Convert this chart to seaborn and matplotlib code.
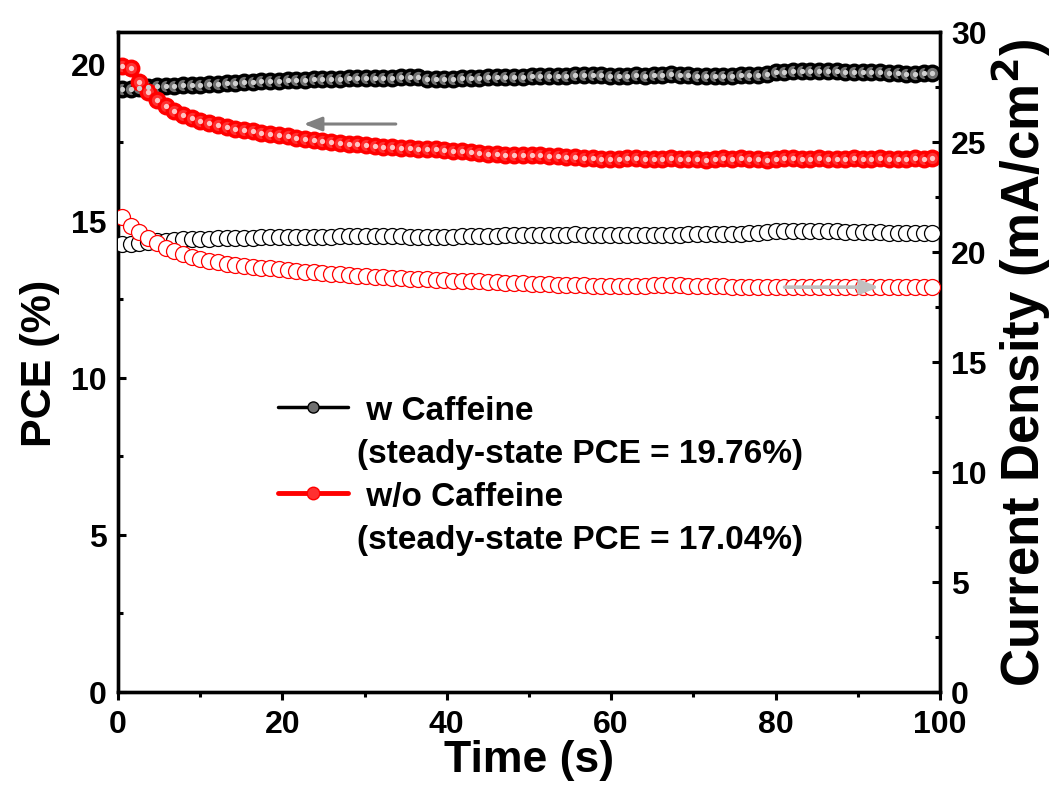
import numpy as np
import matplotlib
matplotlib.use("Agg")
import matplotlib.pyplot as plt
from matplotlib.lines import Line2D
from matplotlib.ticker import MultipleLocator
import seaborn as sns

# Sampling grid of the steady-state tracking measurement (s)
time_s = 0.5 + 1.06 * np.arange(94)

# PCE (%) with caffeine
pce_w = [19.18, 19.20, 19.22, 19.24, 19.27, 19.28, 19.29, 19.30, 19.31, 19.32,
         19.33, 19.35, 19.38, 19.39, 19.40, 19.42, 19.43, 19.44, 19.45, 19.46,
         19.47, 19.48, 19.49, 19.50, 19.50, 19.51, 19.52, 19.53, 19.53, 19.53,
         19.54, 19.53, 19.55, 19.56, 19.55, 19.50, 19.49, 19.50, 19.51, 19.52,
         19.53, 19.54, 19.55, 19.57, 19.57, 19.58, 19.58, 19.59, 19.60, 19.60,
         19.61, 19.61, 19.62, 19.64, 19.63, 19.62, 19.61, 19.61, 19.61, 19.62,
         19.61, 19.62, 19.63, 19.65, 19.63, 19.62, 19.61, 19.61, 19.60, 19.59,
         19.60, 19.62, 19.62, 19.64, 19.67, 19.72, 19.74, 19.75, 19.76, 19.76,
         19.77, 19.77, 19.75, 19.74, 19.73, 19.73, 19.72, 19.72, 19.70, 19.68,
         19.66, 19.67, 19.68, 19.68]

# PCE (%) without caffeine
pce_wo = [19.90, 19.85, 19.40, 19.08, 18.82, 18.63, 18.50, 18.36, 18.26, 18.17,
          18.10, 18.04, 17.97, 17.92, 17.88, 17.84, 17.80, 17.76, 17.72, 17.68,
          17.64, 17.60, 17.56, 17.53, 17.50, 17.47, 17.44, 17.42, 17.40, 17.37,
          17.35, 17.33, 17.31, 17.30, 17.29, 17.28, 17.27, 17.25, 17.22, 17.20,
          17.18, 17.16, 17.13, 17.11, 17.10, 17.09, 17.09, 17.08, 17.07, 17.05,
          17.04, 17.03, 17.02, 17.00, 16.98, 16.96, 16.95, 16.97, 16.99, 16.98,
          16.96, 16.95, 16.97, 16.99, 16.97, 16.96, 16.95, 16.94, 16.97, 16.98,
          16.97, 16.99, 16.97, 16.96, 16.94, 16.97, 16.98, 16.98, 16.96, 16.97,
          16.98, 16.97, 16.95, 16.97, 16.98, 16.96, 16.97, 16.98, 16.97, 16.95,
          16.97, 16.98, 16.96, 16.98]

# Current density (mA/cm2) with caffeine
jsc_w = [20.35, 20.38, 20.42, 20.45, 20.49, 20.52, 20.55, 20.57, 20.59, 20.60,
         20.61, 20.62, 20.63, 20.64, 20.65, 20.65, 20.66, 20.67, 20.67, 20.68,
         20.68, 20.69, 20.69, 20.70, 20.70, 20.71, 20.71, 20.72, 20.72, 20.72,
         20.73, 20.72, 20.71, 20.69, 20.68, 20.68, 20.69, 20.70, 20.70, 20.71,
         20.71, 20.72, 20.73, 20.74, 20.75, 20.76, 20.77, 20.78, 20.78, 20.79,
         20.79, 20.79, 20.80, 20.79, 20.78, 20.77, 20.76, 20.76, 20.76, 20.77,
         20.77, 20.78, 20.79, 20.79, 20.79, 20.80, 20.80, 20.80, 20.80, 20.81,
         20.82, 20.83, 20.84, 20.86, 20.90, 20.94, 20.95, 20.95, 20.95, 20.95,
         20.95, 20.94, 20.93, 20.92, 20.92, 20.91, 20.90, 20.89, 20.88, 20.87,
         20.87, 20.86, 20.86, 20.86]

# Current density (mA/cm2) without caffeine
jsc_wo = [21.58, 21.20, 20.90, 20.62, 20.40, 20.20, 20.04, 19.90, 19.78, 19.68,
          19.60, 19.53, 19.47, 19.42, 19.37, 19.33, 19.29, 19.25, 19.21, 19.17,
          19.13, 19.10, 19.07, 19.04, 19.01, 18.98, 18.95, 18.92, 18.89, 18.87,
          18.85, 18.83, 18.81, 18.79, 18.77, 18.75, 18.73, 18.71, 18.69, 18.68,
          18.67, 18.66, 18.64, 18.62, 18.60, 18.58, 18.57, 18.56, 18.55, 18.54,
          18.52, 18.50, 18.49, 18.48, 18.47, 18.46, 18.45, 18.45, 18.46, 18.47,
          18.47, 18.48, 18.48, 18.49, 18.48, 18.47, 18.46, 18.45, 18.44, 18.43,
          18.42, 18.42, 18.41, 18.41, 18.42, 18.42, 18.41, 18.40, 18.41, 18.42,
          18.41, 18.40, 18.41, 18.42, 18.41, 18.40, 18.40, 18.41, 18.42, 18.41,
          18.40, 18.41, 18.40, 18.40]

labels = ["w Caffeine", "w/o Caffeine"]
steady_pce = [19.76, 17.04]

sns.set_theme(style="ticks")
plt.rcParams["font.family"] = ["Liberation Sans", "DejaVu Sans"]
plt.rcParams["font.weight"] = "bold"
plt.rcParams["axes.labelweight"] = "bold"
plt.rcParams["mathtext.default"] = "bf"
for key in ("text.color", "axes.labelcolor", "xtick.color", "ytick.color",
            "axes.edgecolor"):
    plt.rcParams[key] = "black"

fig = plt.figure(figsize=(10.56, 8.03), dpi=100)
ax = fig.add_axes([0.1117, 0.137, 0.7784, 0.822])
ax2 = ax.twinx()

# Left axis: PCE traces as shaded spheres
for y, col, face, hi in [(pce_w, "black", "#707070", "#d0d0d0"),
                         (pce_wo, "red", "#ff3030", "#ffc4c4")]:
    sns.lineplot(x=time_s, y=y, ax=ax, color=col, lw=3, marker="o",
                 markersize=10.5, markerfacecolor=face,
                 markeredgecolor=col, markeredgewidth=2.4, zorder=3)
    sns.lineplot(x=time_s, y=y, ax=ax, color=hi, linestyle="", marker="o",
                 markersize=3.8, markeredgewidth=0, zorder=4)

# Right axis: current density traces as open circles
for y, col in [(jsc_w, "black"), (jsc_wo, "red")]:
    sns.lineplot(x=time_s, y=y, ax=ax2, color=col, linestyle="", marker="o",
                 markersize=11.5, markerfacecolor="white", markeredgecolor=col,
                 markeredgewidth=0.9, zorder=3)

ax.set_xlim(0, 100)
ax.set_ylim(0, 21)
ax2.set_ylim(0, 30)

ax.xaxis.set_major_locator(MultipleLocator(20))
ax.xaxis.set_minor_locator(MultipleLocator(10))
ax.yaxis.set_major_locator(MultipleLocator(5))
ax.yaxis.set_minor_locator(MultipleLocator(2.5))
ax2.yaxis.set_major_locator(MultipleLocator(5))
ax2.yaxis.set_minor_locator(MultipleLocator(2.5))

tick_font = 23
ax.tick_params(axis="x", which="major", direction="out", length=6, width=2.2,
               labelsize=tick_font, pad=6, top=False)
ax.tick_params(axis="x", which="minor", direction="out", length=3.5, width=2.2, top=False)
ax.tick_params(axis="y", which="major", direction="in", length=6, width=2.2,
               labelsize=tick_font, pad=8)
ax.tick_params(axis="y", which="minor", direction="in", length=3.5, width=2.2)
ax2.tick_params(axis="y", which="major", direction="in", length=6, width=2.2,
                labelsize=tick_font, pad=8)
ax2.tick_params(axis="y", which="minor", direction="in", length=3.5, width=2.2)

for a in (ax, ax2):
    for sp in a.spines.values():
        sp.set_linewidth(2.4)
        sp.set_color("black")
    for lab in a.get_xticklabels() + a.get_yticklabels():
        lab.set_fontweight("bold")

ax.set_xlabel("Time (s)", fontsize=32, fontweight="bold", labelpad=0)
ax.set_ylabel("PCE (%)", fontsize=31, fontweight="bold", labelpad=8)
ax2.set_ylabel("Current Density (mA/cm$^2$)", fontsize=38, fontweight="bold", labelpad=2)

# Direction arrows pointing to each trace's axis
ax.annotate("", xy=(22.6, 18.07), xytext=(33.8, 18.07),
            arrowprops=dict(arrowstyle="-|>,head_length=0.9,head_width=0.35",
                            color="#808080", lw=2.2, shrinkA=0, shrinkB=0), zorder=6)
ax2.annotate("", xy=(92.6, 18.40), xytext=(81.1, 18.40),
             arrowprops=dict(arrowstyle="-|>,head_length=0.9,head_width=0.35",
                             color="#c0c0c0", lw=2.6, shrinkA=0, shrinkB=0), zorder=6)

# Legend with steady-state values
h_w = Line2D([], [], color="black", lw=2.5, marker="o", markersize=8,
             markerfacecolor="#707070", markeredgecolor="black")
h_wo = Line2D([], [], color="red", lw=3.5, marker="o", markersize=9,
              markerfacecolor="#ff3030", markeredgecolor="red")
blank = Line2D([], [], linestyle="", marker="")
handles = [h_w, blank, h_wo, blank]
texts = [" " + labels[0], f"(steady-state PCE = {steady_pce[0]:.2f}%)",
         " " + labels[1], f"(steady-state PCE = {steady_pce[1]:.2f}%)"]
leg = ax2.legend(handles, texts, loc="upper left", bbox_to_anchor=(0.195, 0.45),
                 frameon=False, handlelength=2.1, handletextpad=0.25,
                 labelspacing=0.36, borderpad=0, borderaxespad=0,
                 prop={"weight": "bold", "size": 24})

fig.savefig("out.png", dpi=100)
